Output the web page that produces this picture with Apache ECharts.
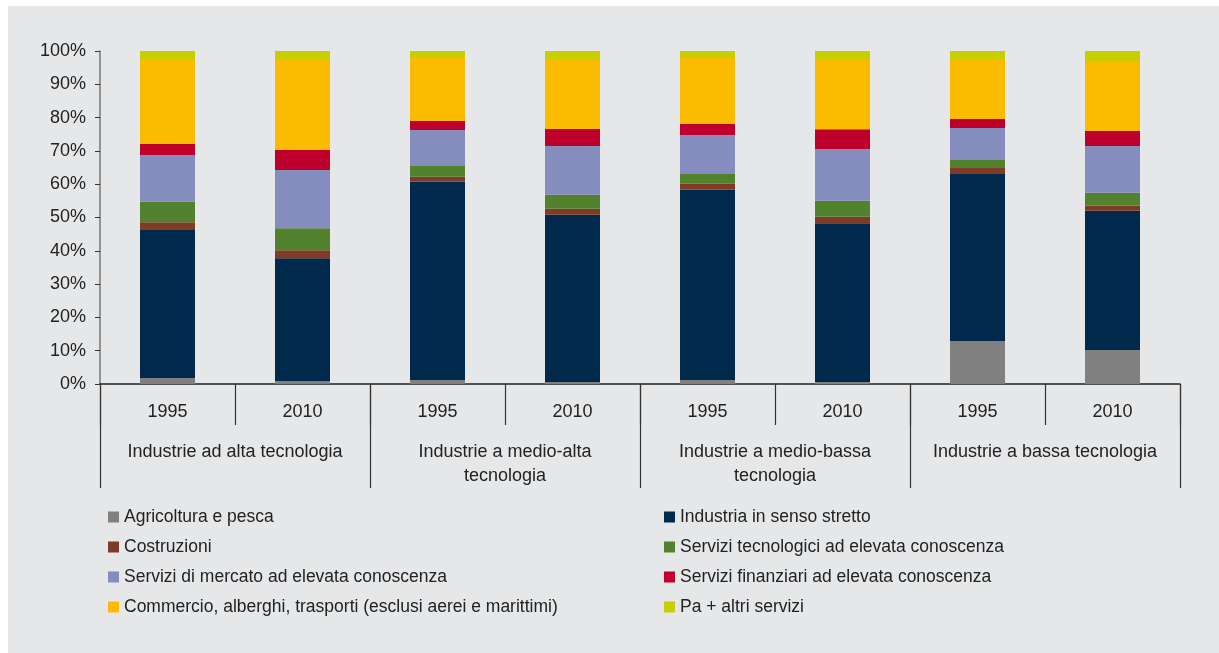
<!DOCTYPE html>
<html>
<head>
<meta charset="utf-8">
<script src="https://cdn.jsdelivr.net/npm/echarts@6/dist/echarts.min.js"></script>
<style>
  html, body { margin: 0; padding: 0; background: #ffffff; }
  #chart { width: 1219px; height: 653px; }
</style>
</head>
<body>
<div id="chart"></div>
<script>
// anni e gruppi sull'asse x
var anni = ['1995', '2010', '1995', '2010', '1995', '2010', '1995', '2010'];
var gruppi = ['Industrie ad alta tecnologia', 'Industrie a medio-alta\ntecnologia', 'Industrie a medio-bassa\ntecnologia', 'Industrie a bassa tecnologia'];

// quote percentuali per settore (una per barra)
var agricoltura = [1.8, 0.9, 1.2, 0.6, 1.2, 0.6, 12.9, 10.2];
var industria = [44.7, 36.9, 59.5, 50.2, 57.1, 47.7, 50.2, 41.8];
var costruzioni = [2.1, 2.4, 1.5, 1.8, 1.8, 1.9, 1.8, 1.5];
var tecnologici = [6.1, 6.6, 3.3, 4.2, 3.0, 4.8, 2.4, 3.9];
var mercato = [14.1, 17.5, 10.8, 14.7, 11.7, 15.6, 9.6, 14.1];
var finanziari = [3.3, 6.0, 2.7, 5.1, 3.3, 5.9, 2.7, 4.5];
var commercio = [25.5, 27.0, 18.9, 21.0, 19.8, 21.1, 18.0, 20.7];
var altri = [2.4, 2.7, 2.1, 2.4, 2.1, 2.4, 2.4, 3.3];

var nomi = [
  'Agricoltura e pesca',
  'Industria in senso stretto',
  'Costruzioni',
  'Servizi tecnologici ad elevata conoscenza',
  'Servizi di mercato ad elevata conoscenza',
  'Servizi finanziari ad elevata conoscenza',
  'Commercio, alberghi, trasporti (esclusi aerei e marittimi)',
  'Pa + altri servizi'
];
var valori = [agricoltura, industria, costruzioni, tecnologici, mercato, finanziari, commercio, altri];
var colori = ['#808080', '#00294c', '#7f3a28', '#52822d', '#858cbe', '#c0002c', '#fbbb00', '#c8cf00'];

var font = 'Liberation Sans, Arial, sans-serif';

var chart = echarts.init(document.getElementById('chart'));

var serie = nomi.map(function (nome, i) {
  return {
    name: nome,
    type: 'bar',
    stack: 'totale',
    barWidth: 55,
    data: valori[i],
    itemStyle: { color: colori[i] }
  };
});

// due colonne di legenda
function legenda(indici, left) {
  return {
    orient: 'vertical',
    left: left,
    top: 508,
    padding: 0,
    icon: 'rect',
    itemWidth: 11,
    itemHeight: 11,
    itemGap: 12,
    selectedMode: false,
    data: indici.map(function (i) { return nomi[i]; }),
    textStyle: { color: '#222', fontSize: 17.5, lineHeight: 18, fontFamily: font }
  };
}

var option = {
  backgroundColor: 'transparent',
  animation: false,
  graphic: [{
    type: 'rect',
    z: -10,
    shape: { x: 8, y: 6, width: 1211, height: 647 },
    style: { fill: '#e6e7e9' }
  }],
  grid: { left: 100, right: 39, top: 51, bottom: 269 },
  legend: [legenda([0, 2, 4, 6], 108), legenda([1, 3, 5, 7], 664)],
  xAxis: [
    {
      type: 'category',
      data: anni,
      position: 'bottom',
      axisLine: { show: true, lineStyle: { color: '#222', width: 1.5 } },
      axisTick: { show: true, length: 41, interval: 0, lineStyle: { color: '#333', width: 1.2 } },
      axisLabel: { interval: 0, margin: 19, color: '#222', fontSize: 18, fontFamily: font }
    },
    {
      type: 'category',
      data: gruppi,
      position: 'bottom',
      axisLine: { show: false },
      axisTick: { show: true, length: 104, interval: 0, lineStyle: { color: '#333', width: 1.2 } },
      axisLabel: { interval: 0, margin: 56, color: '#222', fontSize: 18, lineHeight: 24, fontFamily: font }
    }
  ],
  yAxis: {
    type: 'value',
    min: 0,
    max: 100,
    interval: 10,
    axisLine: { show: true, lineStyle: { color: '#777', width: 1.5 } },
    axisTick: { show: true, length: 5, lineStyle: { color: '#333' } },
    splitLine: { show: false },
    axisLabel: { formatter: '{value}%', margin: 14, color: '#222', fontSize: 18, fontFamily: font }
  },
  series: serie
};

chart.setOption(option);
</script>
</body>
</html>
